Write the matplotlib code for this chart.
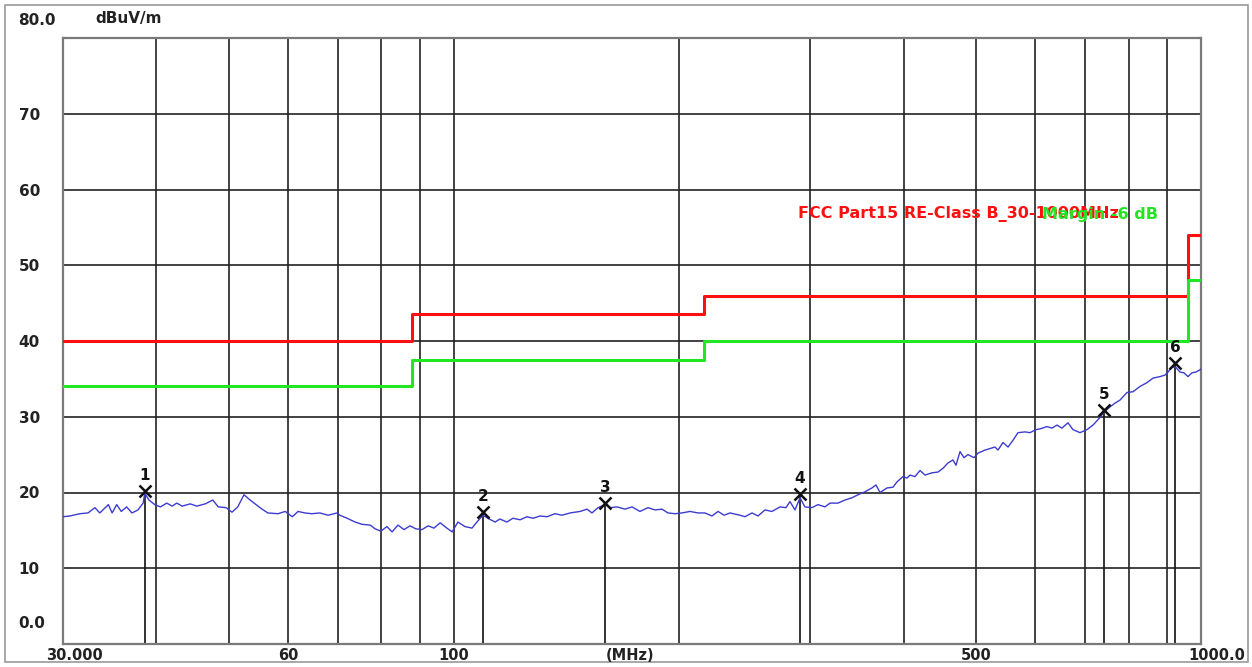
import matplotlib
matplotlib.use("Agg")
import matplotlib.pyplot as plt
from matplotlib.transforms import ScaledTranslation
from matplotlib.patches import Rectangle

# measured trace (MHz, dBuV/m)
freq_mhz = [30.0, 30.65, 31.6, 32.4, 33.1, 33.6, 34.5, 34.9, 35.4, 35.9, 36.5, 37.1, 37.8, 38.4, 38.6,
            39.1, 39.8, 40.5, 41.3, 42.0, 42.6, 43.3, 44.4, 45.3, 46.5, 47.6, 48.4, 49.6, 50.5, 51.4,
            52.4, 53.4, 54.4, 55.4, 56.4, 58.2, 59.5, 60.8, 61.9, 63.2, 64.6, 66.2, 67.9, 69.8, 70.4,
            72.0, 73.8, 75.4, 77.3, 78.5, 79.9, 81.4, 82.7, 84.2, 85.8, 87.4, 89.0, 90.7, 92.4, 94.1,
            95.9, 97.9, 99.5, 101.3, 103.5, 105.8, 107.4, 109.4, 111.1, 113.6, 115.3, 117.8, 120.0,
            122.7, 125.3, 127.7, 130.5, 133.3, 136.6, 139.6, 143.1, 147.6, 150.8, 153.1, 156.0, 159.4,
            161.9, 165.4, 169.5, 173.2, 177.5, 182.0, 185.9, 190.0, 193.5, 197.7, 202.0, 207.1, 212.3,
            216.9, 221.6, 225.8, 230.0, 234.3, 241.6, 245.3, 250.7, 255.4, 260.9, 266.6, 273.3, 278.4,
            281.8, 286.2, 290.7, 295.1, 301.6, 307.2, 313.9, 318.8, 326.7, 333.8, 341.1, 347.5, 355.1,
            362.8, 367.3, 371.9, 380.0, 387.1, 391.9, 399.2, 404.1, 407.9, 414.2, 420.7, 427.2, 436.5,
            444.7, 451.6, 458.6, 465.7, 470.0, 475.9, 481.8, 487.7, 496.8, 503.0, 514.0, 521.9, 530.1,
            535.0, 543.3, 551.8, 560.3, 569.0, 581.5, 590.4, 601.4, 608.8, 622.1, 631.8, 641.6, 651.5,
            663.7, 674.0, 688.7, 703.8, 716.9, 732.5, 741.6, 755.4, 767.2, 779.1, 796.1, 811.0, 828.6,
            846.7, 862.5, 881.3, 895.0, 903.3, 914.5, 925.8, 937.3, 948.8, 960.6, 972.5, 984.5, 996.8,
            1000.0]
level_db = [16.8, 16.9, 17.2, 17.3, 18.0, 17.3, 18.4, 17.3, 18.4, 17.5, 18.1, 17.3, 17.7, 18.6, 19.9,
            19.0, 18.4, 18.1, 18.6, 18.2, 18.6, 18.2, 18.5, 18.2, 18.5, 19.0, 18.1, 18.0, 17.4, 18.1,
            19.7, 19.0, 18.4, 17.8, 17.3, 17.2, 17.5, 16.8, 17.5, 17.3, 17.2, 17.3, 17.0, 17.3, 17.0,
            16.6, 16.1, 15.8, 15.7, 15.2, 14.9, 15.5, 14.8, 15.7, 15.1, 15.6, 15.2, 15.1, 15.6, 15.3,
            16.0, 15.3, 14.8, 16.1, 15.5, 15.3, 16.1, 17.0, 16.6, 16.1, 16.5, 16.1, 16.6,
            16.4, 16.8, 16.6, 16.9, 16.8, 17.2, 17.0, 17.3, 17.5, 17.8, 17.3, 18.0, 18.4,
            18.0, 18.1, 17.8, 18.1, 17.5, 18.0, 17.7, 17.8, 17.3, 17.2, 17.3, 17.5, 17.3,
            17.3, 16.9, 17.5, 17.0, 17.3, 17.0, 16.8, 17.3, 16.9, 17.7, 17.5, 18.1, 18.0,
            18.8, 17.7, 19.3, 18.1, 18.0, 18.4, 18.1, 18.6, 18.6, 19.0, 19.3, 19.7, 20.1,
            20.6, 21.0, 20.0, 20.6, 20.7, 21.4, 22.1, 21.9, 22.3, 22.1, 22.9, 22.3, 22.6,
            22.7, 23.2, 23.9, 24.3, 23.6, 25.4, 24.6, 25.0, 24.6, 25.2, 25.6, 25.8, 26.0,
            25.6, 26.6, 26.0, 26.9, 27.9, 28.0, 27.9, 28.3, 28.4, 28.7, 28.5, 28.9, 28.5,
            29.2, 28.3, 27.9, 28.3, 28.9, 29.9, 30.6, 31.3, 31.8, 32.2, 33.2, 33.3, 34.0,
            34.5, 35.1, 35.3, 35.5, 35.9, 36.6, 36.5, 35.9, 35.8, 35.3, 35.8, 35.9, 36.2,
            36.3]

# limit lines (step starts)
limit_freq = [30, 88, 216, 960, 1000]
limit_db = [40.0, 43.5, 46.0, 54.0, 54.0]
margin_db = [34.0, 37.5, 40.0, 48.0, 48.0]

# peak markers
marker_freq = [38.6, 109.4, 159.4, 290.7, 741.6, 923.0]
marker_db = [20.2, 17.4, 18.6, 19.8, 30.9, 37.1]
marker_names = ["1", "2", "3", "4", "5", "6"]

grid_freqs = [40, 50, 60, 70, 80, 90, 100, 200, 300, 400, 500, 600, 700, 800, 900]
grid_levels = [10, 20, 30, 40, 50, 60, 70]
xtick_vals = [30, 60, 100, 500, 1000]
xtick_text = ["30.000", "60", "100", "500", "1000.0"]
ytick_vals = [0, 10, 20, 30, 40, 50, 60, 70, 80]
ytick_text = ["0.0", "10", "20", "30", "40", "50", "60", "70", "80.0"]

fig = plt.figure(figsize=(12.52, 6.67), dpi=100)
ax = fig.add_axes([63/1252, 1-644/667, (1201-63)/1252, (644-38)/667])
ax.set_xscale("log")
ax.set_xlim(30, 1000)
ax.set_ylim(0, 80)

for f in grid_freqs:
	ax.axvline(f, color="#222222", lw=1.2, zorder=1)
for l in grid_levels:
	ax.axhline(l, color="#222222", lw=1.2, zorder=1)

ax.step(limit_freq, limit_db, where="post", color="#ff1010", lw=2.2, zorder=3)
ax.step(limit_freq, margin_db, where="post", color="#22e622", lw=2.2, zorder=3)

ax.plot(freq_mhz, level_db, color="#3c3cd2", lw=1.0, zorder=4)

for f, v, n in zip(marker_freq, marker_db, marker_names):
	ax.plot([f, f], [0, v], color="#111111", lw=1.2, zorder=2)
	ax.plot(f, v, marker="x", color="#111111", ms=8, mew=1.8, zorder=5)
	ax.annotate(n, (f, v), xytext=(0, 6), textcoords="offset points", ha="center", va="bottom",
				fontsize=11, fontweight="bold", color="#111111", zorder=5)

ax.set_xticks(xtick_vals)
ax.set_xticklabels(xtick_text, fontsize=10.5, fontweight="bold", color="#222222")
ax.xaxis.set_minor_locator(plt.NullLocator())
ax.set_yticks(ytick_vals)
ax.set_yticklabels(ytick_text, fontsize=11, fontweight="bold", color="#222222", ha="left")
ax.tick_params(axis="both", length=0)
ax.tick_params(axis="y", pad=32)
ax.tick_params(axis="x", pad=3)

# end labels sit off their grid lines
x_shift = {"30.000": 11, "1000.0": 16}
for lab in ax.get_xticklabels():
	dx = x_shift.get(lab.get_text(), 0)
	lab.set_transform(lab.get_transform() + ScaledTranslation(dx/100, 0, fig.dpi_scale_trans))
y_shift = {"0.0": 22, "80.0": 19}
for lab in ax.get_yticklabels():
	dy = y_shift.get(lab.get_text(), 0)
	lab.set_transform(lab.get_transform() + ScaledTranslation(0, dy/100, fig.dpi_scale_trans))

for s in ax.spines.values():
	s.set_color("#7a7a7a")
	s.set_linewidth(1.6)

fig.text(95/1252, 1-19/667, "dBuV/m", fontsize=11, fontweight="bold", color="#222222", va="center")
fig.text(630/1252, 1-655/667, "(MHz)", fontsize=10.5, fontweight="bold", color="#222222", va="center", ha="center")
fig.text(798/1252, 1-214/667, "FCC Part15 RE-Class B_30-1000MHz", fontsize=11.5, fontweight="bold",
		 color="#ff1010", va="center")
fig.text(1042/1252, 1-214/667, "Margin -6 dB", fontsize=11.5, fontweight="bold", color="#22e622", va="center")

fig.patches.append(Rectangle((5/1252, 5/667), 1243/1252, 657/667, transform=fig.transFigure,
							 fill=False, edgecolor="#9a9a9a", lw=1.2))

fig.savefig("out.png", dpi=100)
